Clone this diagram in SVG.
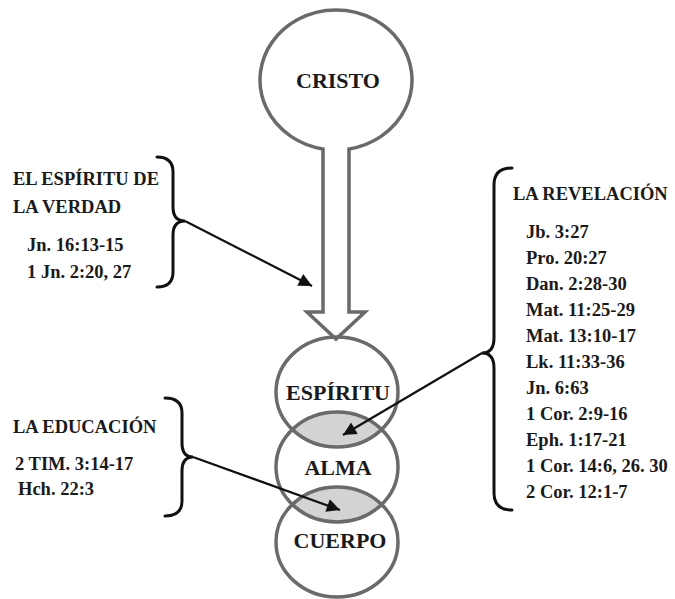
<svg xmlns="http://www.w3.org/2000/svg" width="675" height="599" viewBox="0 0 675 599">
<style>
.shape{fill:#ffffff;stroke:#6a6a6a;stroke-width:3.5}
.ring{fill:none;stroke:#6a6a6a;stroke-width:3.5}
.lens{fill:#d3d3d3}
.brace{fill:none;stroke:#111;stroke-width:3;stroke-linecap:round}
.arrow{fill:none;stroke:#111;stroke-width:2.2}
.big{font-family:"Liberation Serif","Times New Roman",serif;font-weight:bold;font-size:22px;fill:#1a1a1a;text-anchor:middle}
.side{font-family:"Liberation Serif","Times New Roman",serif;font-weight:bold;font-size:18.5px;fill:#1a1a1a}
</style>
<defs>
<marker id="ah" viewBox="0 0 10 10" refX="10" refY="5" markerWidth="7" markerHeight="6" markerUnits="strokeWidth" orient="auto">
<path d="M0,0 L10,5 L0,10 Z" fill="#111"/>
</marker>
<clipPath id="clipE"><ellipse cx="337" cy="392" rx="61" ry="55"/></clipPath>
<clipPath id="clipA"><ellipse cx="337" cy="467" rx="61" ry="55"/></clipPath>
</defs>
<rect width="675" height="599" fill="#ffffff"/>

<g id="cristo">
<path class="shape" d="M323,149 A76,70 0 1 1 349,149 L349,312 L365,312 L336,339 L307,312 L323,312 Z"/>
<text class="big" x="338" y="88">CRISTO</text>
</g>

<g id="lenses">
<ellipse class="lens" cx="337" cy="467" rx="61" ry="55" clip-path="url(#clipE)"/>
<ellipse class="lens" cx="337" cy="542" rx="61" ry="55" clip-path="url(#clipA)"/>
</g>

<g id="espiritu">
<ellipse class="ring" cx="337" cy="392" rx="61" ry="55"/>
<text class="big" x="338" y="400">ESPÍRITU</text>
</g>
<g id="alma">
<ellipse class="ring" cx="337" cy="467" rx="61" ry="55"/>
<text class="big" x="338" y="475">ALMA</text>
</g>
<g id="cuerpo">
<ellipse class="ring" cx="337" cy="542" rx="61" ry="55"/>
<text class="big" x="340" y="548">CUERPO</text>
</g>

<g id="espiritu-verdad">
<text class="side" x="13" y="185">EL ESPÍRITU DE</text>
<text class="side" x="13" y="213">LA VERDAD</text>
<text class="side" x="27" y="251">Jn. 16:13-15</text>
<text class="side" x="27" y="278">1 Jn. 2:20, 27</text>
<path class="brace" d="M157,157 Q173,157 173,172 L173,207 Q173,221 185,221 Q173,221 173,235 L173,272 Q173,287 157,287"/>
</g>

<g id="educacion">
<text class="side" x="13" y="433">LA EDUCACIÓN</text>
<text class="side" x="15" y="470">2 TIM. 3:14-17</text>
<text class="side" x="18" y="495">Hch. 22:3</text>
<path class="brace" d="M165,398 Q182,398 182,413 L182,443 Q182,457 193,457 Q182,457 182,471 L182,501 Q182,516 165,516"/>
</g>

<g id="revelacion">
<text class="side" x="513" y="200">LA REVELACIÓN</text>
<text class="side" x="526" y="238">Jb. 3:27</text>
<text class="side" x="526" y="264">Pro. 20:27</text>
<text class="side" x="526" y="290">Dan. 2:28-30</text>
<text class="side" x="526" y="316">Mat. 11:25-29</text>
<text class="side" x="526" y="342">Mat. 13:10-17</text>
<text class="side" x="526" y="368">Lk. 11:33-36</text>
<text class="side" x="526" y="394">Jn. 6:63</text>
<text class="side" x="526" y="420">1 Cor. 2:9-16</text>
<text class="side" x="526" y="446">Eph. 1:17-21</text>
<text class="side" x="526" y="472">1 Cor. 14:6, 26. 30</text>
<text class="side" x="526" y="498">2 Cor. 12:1-7</text>
<path class="brace" d="M512,168 Q494,168 494,185 L494,338 Q494,353 482,353 Q494,353 494,368 L494,493 Q494,510 512,510"/>
</g>

<g id="connectors">
<line class="arrow" x1="185" y1="221" x2="312" y2="286" marker-end="url(#ah)"/>
<line class="arrow" x1="482" y1="353" x2="343" y2="435" marker-end="url(#ah)"/>
<line class="arrow" x1="193" y1="457" x2="340" y2="510" marker-end="url(#ah)"/>
</g>
</svg>
